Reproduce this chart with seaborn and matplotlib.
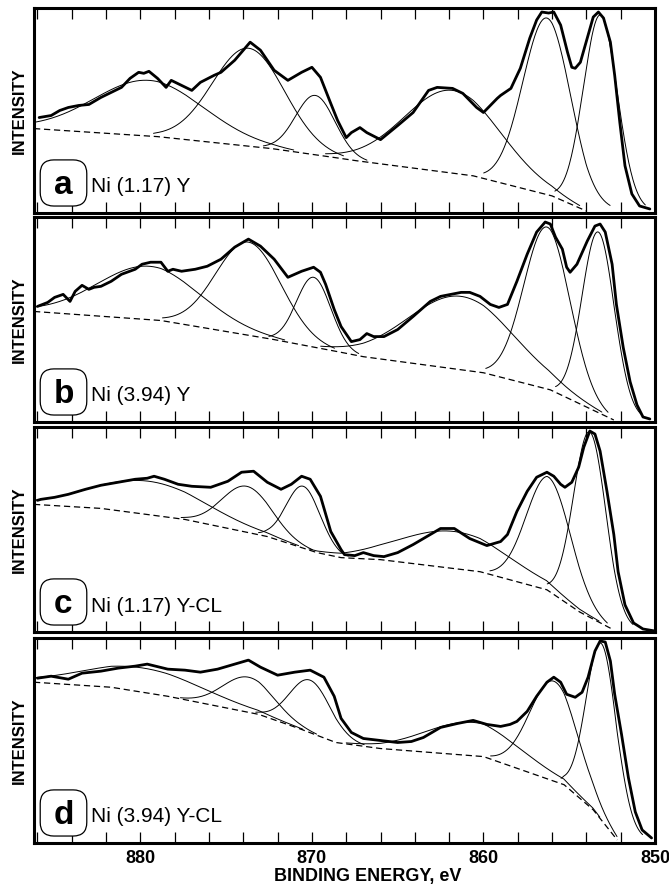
import numpy as np
import pandas as pd
import matplotlib
matplotlib.use("Agg")
import matplotlib.pyplot as plt
import seaborn as sns
from matplotlib.patches import FancyBboxPatch

sns.set_theme(style="white")
plt.rcParams['font.family'] = ['Liberation Sans', 'DejaVu Sans']

# ---------------- data ----------------
panel_letters = ['a', 'b', 'c', 'd']
panel_names = ['Ni (1.17) Y', 'Ni (3.94) Y', 'Ni (1.17) Y-CL', 'Ni (3.94) Y-CL']
x_tick_values = [880, 870, 860, 850]

# measured spectra (binding energy, eV / intensity, arb.)
a_energy = [885.9, 885.2, 884.7, 884.2, 883.6, 883.0, 882.3, 881.7, 881.1, 880.6, 880.1, 879.8, 879.5,
            879.0, 878.5, 878.2, 877.6, 877.0, 876.5, 875.7, 875.3, 874.5, 873.6, 873.0, 872.2, 871.4,
            870.6, 870.0, 869.5, 868.9, 868.5, 868.0, 867.7, 867.2, 866.8, 866.0, 865.0, 864.1, 863.2,
            862.7, 861.8, 861.2, 860.4, 860.0, 859.2,
            859.0, 858.4, 857.85, 857.3, 856.9, 856.6, 856.2, 855.9, 855.5, 855.1, 854.85, 854.65,
            854.35, 853.95, 853.6, 853.3, 853.0, 852.6, 852.35, 852.05, 851.75, 851.35, 850.9, 850.3]
a_intensity = [95, 97, 102, 105, 107, 108, 115, 120, 125, 134, 140, 139, 141,
               134, 125, 132, 127, 122, 130, 137, 140, 152, 170, 162, 142, 132,
               140, 145, 135, 109, 92, 75, 80, 85, 80, 73, 87, 100, 122,
               125, 124, 119, 105, 100, 114,
               117, 124, 144, 174, 192, 200, 199, 200, 187, 160, 145, 144,
               150, 174, 195, 200, 194, 170, 137, 90, 47, 19, 7, 4]

b_energy = [886.0, 885.4, 885.0, 884.5, 884.1, 883.8, 883.4, 883.0, 882.7, 882.3, 881.7, 881.1, 880.3,
            879.9, 879.4, 878.8, 878.4, 878.1, 877.6, 876.8, 876.1, 875.3, 874.5, 873.7, 873.0, 872.2,
            871.4, 870.6, 869.9, 869.5, 869.2, 868.7, 868.3, 867.7, 867.2, 866.8, 866.4, 865.8, 865.0,
            864.1, 863.1, 862.5, 861.3, 860.8, 860.2, 859.6, 859.1,
            858.6, 858.05, 857.45, 856.9, 856.4, 856.1, 855.8, 855.4, 855.15, 854.95, 854.55, 853.95,
            853.5, 853.2, 852.9, 852.5, 852.25, 851.85, 851.45, 851.05, 850.7, 850.3]
b_intensity = [115, 119, 124, 127, 120, 130, 136, 132, 134, 135, 140, 147, 152,
               157, 159, 159, 150, 152, 150, 152, 155, 162, 174, 182, 175, 162,
               144, 150, 154, 149, 137, 112, 95, 80, 82, 88, 85, 85, 92,
               105, 120, 125, 129, 129, 125, 117, 114,
               117, 140, 167, 189, 199, 197, 184, 172, 154, 149, 157, 180,
               195, 197, 189, 157, 117, 74, 40, 17, 5, 3]

c_energy = [886.0, 885.8, 885.0, 884.2, 883.2, 882.3, 881.3, 880.3, 879.6, 879.2, 878.6, 877.8, 877.0,
            875.9, 874.9, 874.1, 873.4, 872.6, 871.8, 871.2, 870.6, 870.1, 869.5, 868.9, 868.3, 868.1,
            867.5, 867.0, 866.4, 865.8, 865.0, 864.1, 863.1, 862.5, 861.7, 860.8, 859.8, 859.0,
            858.6, 858.05, 857.45, 856.9, 856.3, 855.9, 855.5, 855.25, 854.85, 854.45, 854.15, 853.8,
            853.5, 853.2, 852.8, 852.4, 852.15, 851.75, 851.25, 850.7, 850.0]
c_intensity = [131, 132, 134, 137, 142, 146, 149, 152, 153, 155, 152, 147, 145,
               144, 150, 159, 160, 149, 142, 147, 155, 152, 135, 100, 82, 77,
               76, 79, 76, 75, 79, 87, 97, 103, 103, 93, 86, 90,
               97, 120, 140, 154, 159, 155, 147, 144, 149, 164, 184, 200,
               197, 180, 140, 97, 60, 27, 9, 3, 1]

d_energy = [886.0, 885.2, 884.2, 883.4, 882.3, 881.3, 880.3, 879.6, 878.4, 877.4, 876.5, 875.5, 874.5,
            873.7, 873.0, 872.0, 871.0, 870.1, 869.3, 868.7, 868.3, 867.7, 867.0, 866.0, 865.0, 864.2,
            863.5, 862.5, 861.5, 860.6, 859.8, 859.0,
            858.45, 858.05, 857.45, 856.9, 856.3, 855.9, 855.5, 855.15, 854.65, 854.25, 853.9, 853.5,
            853.2, 852.9, 852.6, 852.35, 851.95, 851.55, 851.15, 850.75, 850.2]
d_intensity = [164, 166, 163, 169, 171, 174, 176, 178, 173, 172, 170, 173, 178,
               182, 175, 167, 170, 172, 165, 146, 124, 110, 104, 102, 100, 101,
               105, 115, 119, 122, 118, 116,
               118, 121, 131, 146, 160, 165, 160, 148, 145, 150, 165, 191,
               201, 200, 181, 148, 108, 65, 31, 13, 5]

# background (dashed)
a_bg_energy = [886.2, 879.0, 872.3, 868.6, 867.4, 860.6, 856.0, 854.0]
a_bg_intensity = [84, 76, 64, 55, 52, 37, 17, 2]
b_bg_energy = [886.2, 878.8, 872.2, 868.5, 867.0, 860.0, 856.1, 852.4]
b_bg_intensity = [110, 101, 82, 70, 65, 49, 32, 2]
c_bg_energy = [886.2, 882.3, 877.4, 872.6, 869.7, 868.3, 866.0, 860.2, 856.3, 854.4, 852.4]
c_bg_intensity = [127, 123, 112, 95, 79, 74, 72, 60, 42, 20, 2]
d_bg_energy = [886.2, 881.7, 878.4, 873.1, 870.6, 868.6, 866.0, 860.0, 855.3, 853.6, 852.2]
d_bg_intensity = [160, 155, 146, 128, 113, 100, 94, 86, 58, 33, 3]

# fitted components: centre (eV), top intensity, width (eV)
a_peak_center = [879.5, 873.7, 869.8, 861.8, 856.3, 853.2]
a_peak_top = [132, 164, 117, 122, 194, 197]
a_peak_width = [3.2, 2.1, 1.15, 2.8, 1.4, 1.0]
b_peak_center = [879.5, 873.7, 869.9, 861.3, 856.3, 853.3]
b_peak_top = [155, 179, 144, 125, 194, 189]
b_peak_width = [3.0, 1.9, 1.0, 3.1, 1.35, 0.95]
c_peak_center = [879.5, 873.8, 870.5, 861.7, 856.2, 853.8]
c_peak_top = [150, 145, 145, 100, 154, 199]
c_peak_width = [3.3, 1.45, 1.0, 3.2, 1.3, 0.95]
d_peak_center = [879.8, 873.7, 870.1, 860.6, 855.9, 853.1]
d_peak_top = [174, 165, 162, 120, 161, 198]
d_peak_width = [3.5, 1.5, 1.2, 2.8, 1.4, 0.9]

panels = [
    (a_energy, a_intensity, a_bg_energy, a_bg_intensity, a_peak_center, a_peak_top, a_peak_width),
    (b_energy, b_intensity, b_bg_energy, b_bg_intensity, b_peak_center, b_peak_top, b_peak_width),
    (c_energy, c_intensity, c_bg_energy, c_bg_intensity, c_peak_center, c_peak_top, c_peak_width),
    (d_energy, d_intensity, d_bg_energy, d_bg_intensity, d_peak_center, d_peak_top, d_peak_width),
]

# ---------------- figure ----------------
W, H = 669, 885
fig = plt.figure(figsize=(W / 100, H / 100), dpi=100)
left = 34 / W
width = 621 / W
tops_px = [8, 217, 427, 638]
height_px = 205

XMIN, XMAX = 886.2, 850.0
grid = np.linspace(XMAX, XMIN, 900)

for i, (en, inten, bge, bgi, pc, pt, pw) in enumerate(panels):
    top = tops_px[i]
    ax = fig.add_axes([left, 1 - (top + height_px) / H, width, height_px / H])
    ax.set_facecolor('white')

    # background
    bg_df = pd.DataFrame({'E': bge, 'I': bgi})
    sns.lineplot(data=bg_df, x='E', y='I', ax=ax, color='black', lw=0.9,
                 linestyle=(0, (5, 3)), sort=False, estimator=None)

    # components
    bge_s = np.array(bge)[::-1]
    bgi_s = np.array(bgi)[::-1]
    bg_grid = np.interp(grid, bge_s, bgi_s)
    for c, t, s in zip(pc, pt, pw):
        amp = t - np.interp(c, bge_s, bgi_s)
        g = amp * np.exp(-(grid - c) ** 2 / (2 * s ** 2))
        m = g > 0.03 * amp
        comp_df = pd.DataFrame({'E': grid[m], 'I': bg_grid[m] + g[m]})
        sns.lineplot(data=comp_df, x='E', y='I', ax=ax, color='black', lw=0.7,
                     sort=False, estimator=None)

    # measured spectrum
    meas_df = pd.DataFrame({'E': en, 'I': inten})
    sns.lineplot(data=meas_df, x='E', y='I', ax=ax, color='black', lw=2.0,
                 sort=False, estimator=None)

    ax.set_xlim(XMIN, XMAX)
    ax.set_ylim(0, 204)
    ax.set_yticks([])
    ax.set_ylabel('')
    ax.set_xlabel('')
    ticks = np.arange(850, 887, 2)
    ax.set_xticks(ticks)
    if i == 3:
        ax.set_xticklabels([str(t) if t in x_tick_values else '' for t in ticks],
                           fontweight='bold', fontsize=13)
    else:
        ax.set_xticklabels([])
    ax.tick_params(axis='x', direction='in', length=8, width=0.9, top=True, bottom=True,
                   color='black', pad=5, labelcolor='black')
    for sp in ax.spines.values():
        sp.set_linewidth(2.2)
        sp.set_color('black')
        sp.set_visible(True)

    ax.text(-0.024, 0.5, 'INTENSITY', rotation=90, transform=ax.transAxes,
            ha='center', va='center', fontweight='bold', fontsize=12, color='black')

    box = FancyBboxPatch((0.010, 0.034), 0.075, 0.225,
                         boxstyle='round,pad=0,rounding_size=0.022',
                         mutation_aspect=621 / 205,
                         transform=ax.transAxes, facecolor='white',
                         edgecolor='black', lw=0.9, zorder=5)
    ax.add_patch(box)
    ax.text(0.0475, 0.095, panel_letters[i], transform=ax.transAxes, ha='center',
            va='baseline', fontweight='bold', fontsize=24, color='black', zorder=6)
    ax.text(0.092, 0.10, panel_names[i], transform=ax.transAxes, ha='left',
            va='baseline', fontsize=15, color='black', zorder=6)

fig.text(368 / W, 1 - 877 / H, 'BINDING ENERGY, eV', ha='center', va='center',
         fontweight='bold', fontsize=13, color='black')

fig.savefig('out.png', dpi=100, facecolor='white')
